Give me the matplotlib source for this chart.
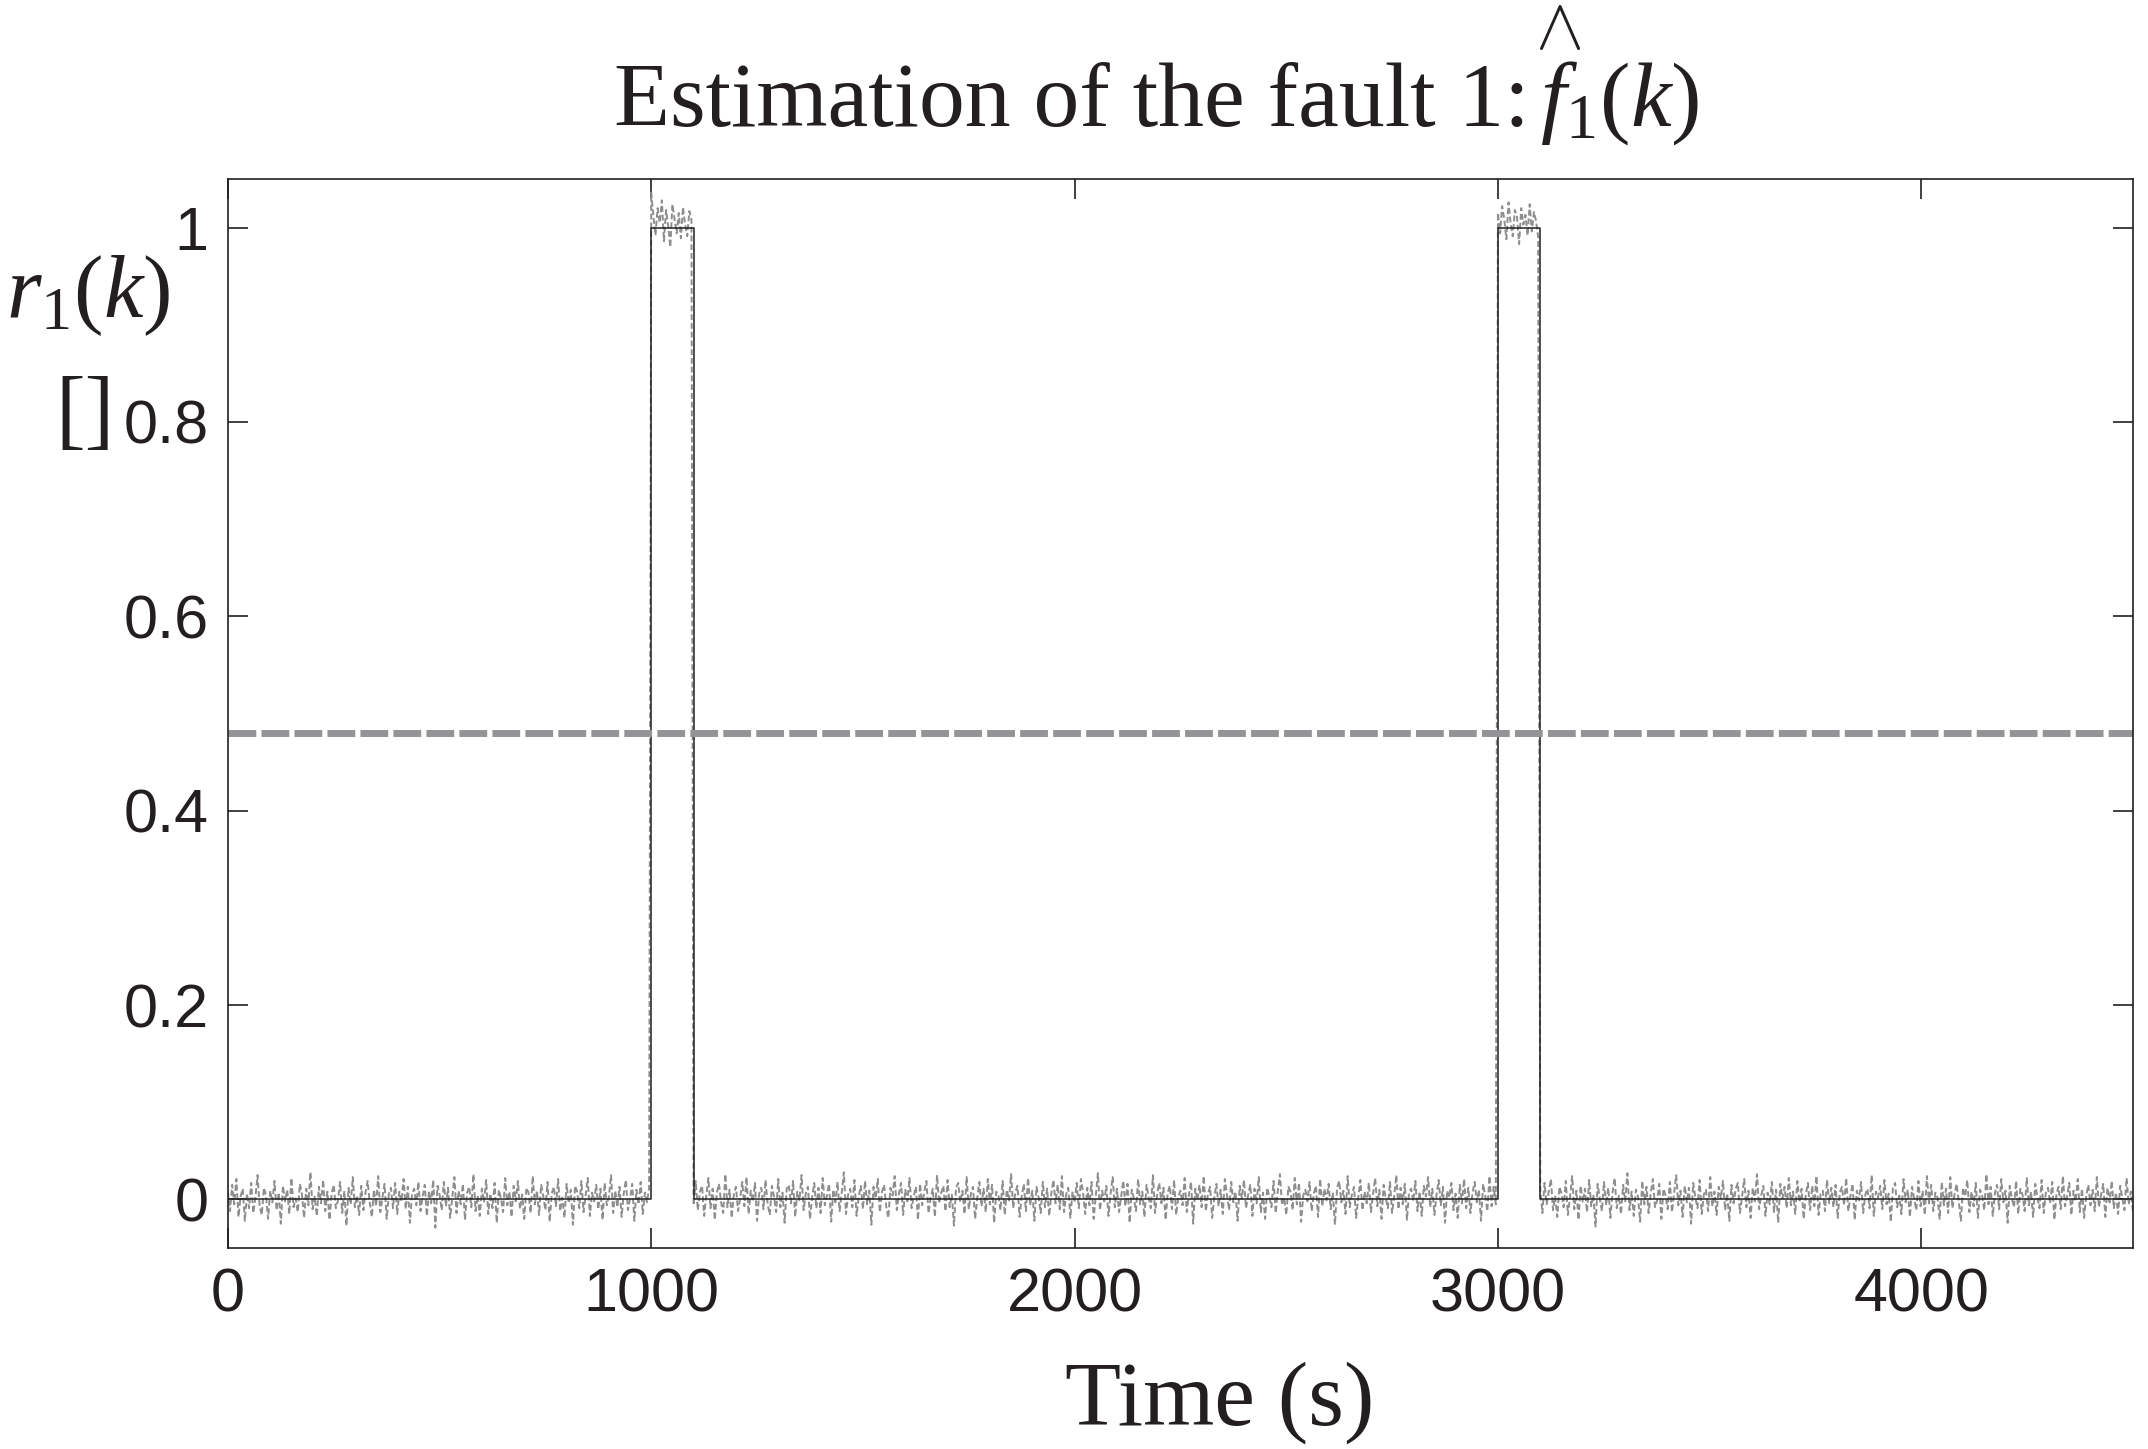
import matplotlib
matplotlib.use('Agg')
import matplotlib.pyplot as plt
import numpy as np

# true fault profile (breakpoints)
fault_time = [0, 1000, 1000, 1100, 1100, 3000, 3000, 3100, 3100, 4500]
fault_value = [0, 0, 1, 1, 0, 0, 1, 1, 0, 0]

threshold = 0.48

# estimation noise, in thousandths
noise_a = [8, -12, 15, -5, 21, -18, 3, 11, -22, 6, -9, 17, -14, 2, 25, -7, -16, 12, 4, -20,
           9, -3, 19, -11, 7, -25, 14, -2, 10, -15, 22, -8, 1, -13, 16, 5, -19, 11, -6, 28,
           -10, 3, -17, 13, -4, 20, -12, 8, -21, 6, 15, -9, -1, 18, -14, 9, -27, 12, -5, 23,
           -8, 4, -16, 14, -11, 7, 19, -3, -18, 10, -7, 24, -13, 2, 16, -20, 5, 12, -9, 17,
           -15, 8, -2, 21, -10, 13, -24, 6, 11, -6, 18, -12, 3, 15, -17, 9, -4, 20, -29, 14,
           5, -11, 18, -7, 12, -19, 2, 23, -14, 9, -5, 16, -21, 7, 13, -8, 26, -12, 4, -17,
           11, -3, 20, -15, 6, -9, 17, -24, 10, 1, -13, 22, -6, 8, -18, 14, -2, 19, -10, 5,
           -20, 12, 7, -14, 24, -5, 9, -16, 15, 3, -11, 18, -23, 6, 13, -7, 21, -12, 2, -19,
           16, -4, 10, -26, 14, 8, -9, 19, -13, 4, 22, -17, 7, -2, 15, -10, 11, -21, 17, -6,
           3, 25, -14, 9, -8, 13, -18, 6, 20, -11, 1, 16, -22, 10, -5, 18, -15, 7, -3, 12]
noise_b = [36, 12, -8, 20, 5, 28, -14, 18, 2, -20, 24, 9, -6, 15, -11, 21, 3, -9, 17, 8]
noise_c = [-6, 19, -11, 8, 14, -17, 4, 22, -9, 11, -21, 7, 16, -3, -14, 26, -8, 10, -19, 5,
           13, -12, 1, 18, -7, 23, -15, 9, -2, 17, -22, 6, 12, -10, 20, -5, -16, 14, 3, -13,
           21, -8, 7, -24, 11, 15, -4, 19, -18, 8, -1, 25, -11, 6, 13, -20, 2, 17, -9, 12,
           -14, 22, -6, 4, 16, -23, 10, -3, 18, -12, 7, 28, -15, 5, 11, -8, 20, -17, 3, 14,
           -10, 19, -5, 9, -26, 13, 1, 21, -13, 8, 15, -7, -19, 12, 4, 24, -11, 6, 17, -16,
           10, -2, 22, -9, 3, 13, -21, 16, -6, 8, 19, -14, 2, 11, -18, 25, -4, 7, 14, -12,
           20, -8, 5, -27, 12, 17, -3, 9, -15, 23, -10, 6, 13, -20, 1, 18, -7, 11, -13, 21,
           -5, 15, -24, 8, 4, -11, 19, -16, 10, -1, 26, -9, 7, 14, -18, 3, 16, -12, 22, -6,
           9, -22, 13, 2, -14, 18, -8, 11, -17, 6, 20, -4, 15, -10, 24, -13, 5, 12, -19, 8,
           -3, 17, -9, 21, 7, -15, 12, -6, 18, -20, 4, 27, -11, 9, -2, 14, -17, 6, 23, -8,
           11, -13, 3, 19, -7, 16, -24, 10, 1, -12, 21, -5, 8, -18, 15, 2, -9, 25, -14, 6,
           17, -4, 12, -21, 7, 14, -10, 20, -16, 3, 9, -6, 22, -13, 5, 18, -25, 11, -1, 15,
           -8, 24, -12, 6, 13, -19, 2, 16, -7, 10, -15, 21, 4, -11, 18, -3, 8, -22, 14, 1,
           20, -9, 5, 15, -17, 11, -4, 23, -13, 7, -20, 12, 3, -8, 19, -14, 9, 26, -6, 2,
           -16, 13, 8, -11, 22, -5, 17, -23, 4, 10, -2, 18, -12, 6, 14, -18, 21, -7, 11, -1,
           16, -10, 7, -26, 12, 19, -3, 9, -15, 24, -8, 5, 13, -19, 2, 20, -11, 8, -4, 17,
           -13, 6, 22, -7, 10, -20, 15, 1, -9, 18, -14, 4, 25, -10, 12, -5, 16, -21, 7, 11,
           -2, 19, -12, 8, -17, 14, 3, 23, -8, 11, -16, 5, 20, -6, 13, -24, 9, 2, 17, -11,
           6, -19, 15, -4, 21, -9, 12, -14, 7, 18, -3, 10, -22, 16, 4, -12, 24, -7, 13, -5]
noise_d = [15, -6, 22, 8, -12, 26, 4, -9, 18, 11, -17, 20, 3, 13, -8, 24, -4, 16, 7, -10]
noise_e = [10, -14, 17, -5, 8, 21, -11, 3, -18, 13, 6, -8, 19, -16, 2, 24, -10, 9, -21, 14,
           -3, 11, -13, 20, -7, 5, -28, 16, 1, -12, 18, -6, 12, -19, 7, 22, -9, 4, -15, 15,
           -2, 27, -11, 8, -17, 10, 3, -23, 19, -5, 13, -14, 6, 21, -8, -1, 16, -20, 11, 4,
           -10, 18, -13, 7, 25, -6, 9, -18, 14, -3, 12, -25, 17, 2, -9, 20, -15, 5, 10, -12,
           23, -7, 8, -16, 13, 1, 19, -11, 6, -22, 15, -4, 11, 17, -14, 3, 21, -8, 9, -19,
           12, -2, 26, -10, 4, 14, -17, 7, -5, 18, -13, 10, -24, 16, 1, 13, -9, 22, -6, 8,
           -15, 19, -3, 11, -20, 5, 17, -11, 14, -7, 24, -16, 6, 9, -12, 20, -4, 12, -8, 15,
           -19, 7, 13, -6, 22, -12, 3, 16, -21, 9, -1, 18, -14, 5, 11, -9, 25, -17, 8, 2,
           14, -10, 20, -5, 6, -23, 12, 17, -8, 4, -15, 21, -3, 10, -18, 13, 1, -11, 19, -7,
           9, -16, 24, -4, 15, -12, 7, 2, -20, 18, -6, 11, -14, 23, -9, 5, 16, -2, -22, 12,
           3, 20, -13, 8, -7, 17, -19, 10, 4, -11, 26, -5, 13, -17, 6, 15, -10, 21, -3, 9,
           -24, 14, 1, -8, 19, -15, 11, 5, -12, 22, -6, 8, -18, 16, 2, -9, 20, -14, 7, 12,
           -4, 18, -21, 6, 13, -10, 24, -7, 3, 17, -16, 9, -2, 21, -13, 11, -19, 4, 15, -6,
           10, -12, 23, -8, 5, 16, -18, 12, -3, 19, -9, 7, -15, 14, 1, -11, 22, -5, 8, -13]

# (start, end, fault level) for each noise segment
segments = [(0, 995, 0, noise_a), (1000, 1095, 1, noise_b), (1100, 2995, 0, noise_c),
            (3000, 3095, 1, noise_d), (3100, 4500, 0, noise_e)]

xticks = [0, 1000, 2000, 3000, 4000]
yticks = [0, 0.2, 0.4, 0.6, 0.8, 1]

plt.rcParams['font.family'] = ['Liberation Sans', 'DejaVu Sans']
plt.rcParams['mathtext.fontset'] = 'custom'
plt.rcParams['mathtext.rm'] = 'Liberation Serif'
plt.rcParams['mathtext.it'] = 'Liberation Serif:italic'

fig = plt.figure(figsize=(10.74, 7.245), dpi=200)
ax = fig.add_axes([0.1061, 0.1387, 0.8869, 0.7378])

# estimated fault (noisy)
est_t = []
est_v = []
for start, end, level, noise in segments:
    t = np.linspace(start, end, len(noise))
    est_t.extend(t)
    est_v.extend([level + n / 1000.0 for n in noise])
ax.plot(est_t, est_v, color='#8e8e8e', lw=0.7, ls=(0, (3, 1.5)))

# true fault
ax.plot(fault_time, fault_value, color='#231f20', lw=0.55)

# detection threshold
ax.axhline(threshold, color='#949497', lw=2.5, dashes=(4, 0.75), dash_capstyle='butt')

ax.set_xlim(0, 4500)
ax.set_ylim(-0.05, 1.05)
ax.set_xticks(xticks)
ax.set_yticks(yticks)
ax.set_yticklabels(['0', '0.2', '0.4', '0.6', '0.8', '1'])
ax.tick_params(direction='in', length=7.2, width=0.6, labelsize=22, pad=7,
               top=True, right=True, colors='#231f20')
for s in ax.spines.values():
    s.set_linewidth(0.6)
    s.set_color('#231f20')

serif = ['Liberation Serif', 'DejaVu Sans']
fig.text(1530 / 2148, 1 - 126 / 1449, 'Estimation of the fault 1:', family=serif,
         fontsize=33, ha='right', va='baseline', color='#231f20')
fig.text(1540 / 2148, 1 - 126 / 1449, r'$f_{1}(k)$', fontsize=33, ha='left',
         va='baseline', color='#231f20')
fig.text(1558 / 2148, 1 - 30 / 1449, r'$\wedge$', fontsize=26, ha='center', va='center',
         color='#231f20')

fig.text(88 / 2148, 1 - 317 / 1449, r'$r_{1}(k)$', fontsize=32, ha='center',
         va='baseline', color='#231f20')
fig.text(85 / 2148, 1 - 417 / 1449, '[]', family=serif, fontsize=32, ha='center',
         va='center', color='#231f20')

fig.text(1220 / 2148, 1 - 1425 / 1449, 'Time (s)', family=serif, fontsize=33,
         ha='center', va='baseline', color='#231f20')

fig.savefig('out.png', dpi=200)
